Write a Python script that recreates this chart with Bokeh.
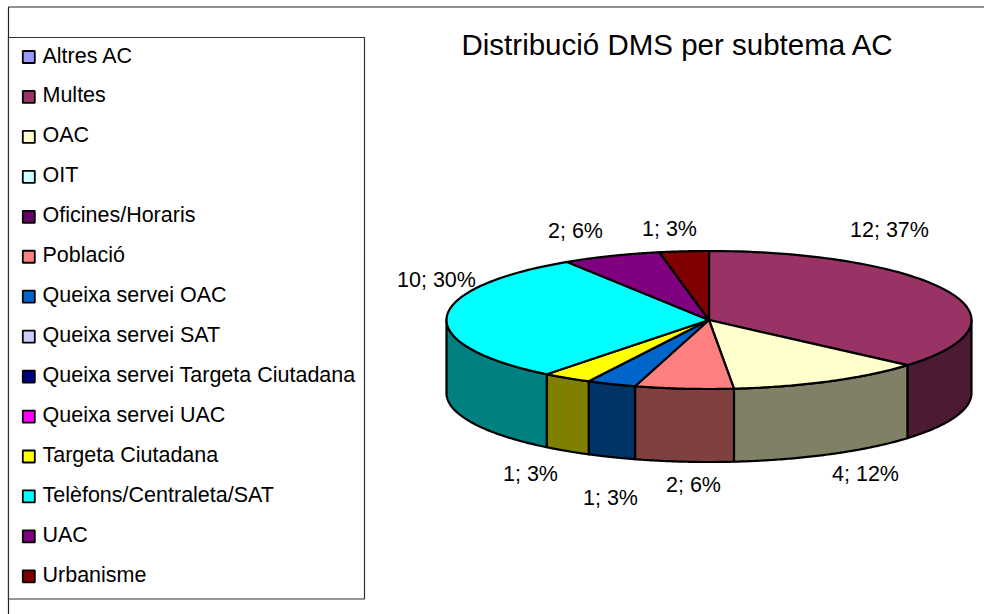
import numpy as np
from bokeh.plotting import figure
from bokeh.models import Range1d
from bokeh.core.properties import value
from bokeh.embed import file_html
from bokeh.resources import INLINE

title = "Distribució DMS per subtema AC"
categories = ["Altres AC", "Multes", "OAC", "OIT", "Oficines/Horaris", "Població",
              "Queixa servei OAC", "Queixa servei SAT", "Queixa servei Targeta Ciutadana",
              "Queixa servei UAC", "Targeta Ciutadana", "Telèfons/Centraleta/SAT", "UAC", "Urbanisme"]
counts = [0, 12, 4, 0, 0, 2, 1, 0, 0, 0, 1, 10, 2, 1]
colors = ["#9999FF", "#993366", "#FFFFCC", "#CCFFFF", "#660066", "#FF8080", "#0066CC",
          "#CCCCFF", "#000080", "#FF00FF", "#FFFF00", "#00FFFF", "#800080", "#800000"]
side_colors = ["#4D4D80", "#4D1A33", "#808066", "#668080", "#330033", "#804040", "#003366",
               "#666680", "#000040", "#800080", "#808000", "#008080", "#400040", "#400000"]
slice_order = ["Multes", "OAC", "Població", "Queixa servei OAC", "Targeta Ciutadana",
               "Telèfons/Centraleta/SAT", "UAC", "Urbanisme"]
slice_labels = ["12; 37%", "4; 12%", "2; 6%", "1; 3%", "1; 3%", "10; 30%", "2; 6%", "1; 3%"]
label_x = [889, 865, 693, 610, 530, 436, 575, 669]
label_y = [229, 473, 484, 497, 473, 279, 230, 228]

# geometry of the pseudo-3D pie, in page pixels
CX, CY, RX, RY, DEPTH = 708.5, 319.5, 262.5, 69.0, 73.0
FONT = value("Liberation Sans")
INK = "#000000"

p = figure(width=984, height=614, output_backend="svg", toolbar_location=None,
           x_range=Range1d(0, 984), y_range=Range1d(614, 0), min_border=0,
           outline_line_color=None, background_fill_color="white")
p.xaxis.visible = False
p.yaxis.visible = False
p.grid.visible = False

# outer frame
p.line(x=[8, 8, 984], y=[614, 6.5, 6.5], line_color="#222222", line_width=1.2)

# legend
p.quad(left=[8], right=[364], top=[37], bottom=[598.5], fill_color="white",
       line_color="#333333", line_width=1.2)
ly = 55 + np.arange(len(categories)) * 39.95
p.rect(x=[28.3] * len(categories), y=ly + 1.5, width=12, height=12, fill_color=colors,
       line_color="black", line_width=1.8)
p.text(x=[42] * len(categories), y=ly, text=categories, text_font=FONT, text_font_size="21.5px",
       text_color=INK, text_baseline="middle", text_align="left")

p.text(x=[461], y=[44], text=[title], text_font=FONT, text_font_size="29.5px", text_color=INK,
       text_baseline="middle", text_align="left")

# slices
idx = [categories.index(n) for n in slice_order]
vals = np.array([counts[i] for i in idx], dtype=float)
edges = np.concatenate([[0], np.cumsum(vals)]) / vals.sum() * 2 * np.pi


def rim(a0, a1, n=80):
    t = np.linspace(a0, a1, n)
    return CX + RX * np.sin(t), CY - RY * np.cos(t)


# side walls: visible part of the rim, from 3 o'clock to 9 o'clock going clockwise
side_x, side_y, side_c = [], [], []
for k, i in enumerate(idx):
    a0, a1 = max(edges[k], np.pi / 2), min(edges[k + 1], 3 * np.pi / 2)
    if a1 <= a0:
        continue
    x, y = rim(a0, a1)
    side_x.append(np.concatenate([x, x[::-1]]).tolist())
    side_y.append(np.concatenate([y, (y + DEPTH)[::-1]]).tolist())
    side_c.append(side_colors[i])
p.patches(side_x, side_y, fill_color=side_c, line_color="black", line_width=2.2, line_join="round")

# top faces
top_x, top_y, top_c = [], [], []
for k, i in enumerate(idx):
    x, y = rim(edges[k], edges[k + 1])
    top_x.append([CX] + x.tolist())
    top_y.append([CY] + y.tolist())
    top_c.append(colors[i])
p.patches(top_x, top_y, fill_color=top_c, line_color="black", line_width=2.2, line_join="round")

p.text(x=label_x, y=label_y, text=slice_labels, text_font=FONT, text_font_size="21.5px",
       text_color=INK, text_baseline="middle", text_align="center")

open("out.html", "w").write(file_html(p, INLINE))
